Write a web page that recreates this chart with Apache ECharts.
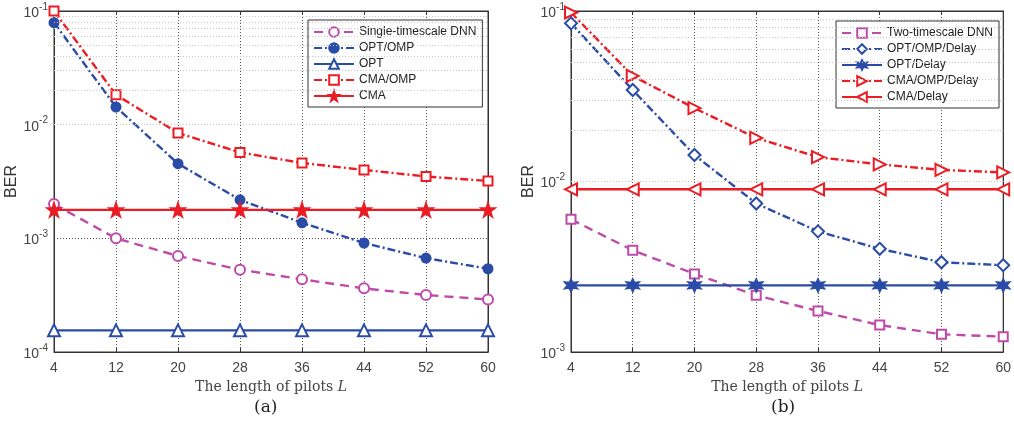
<!DOCTYPE html>
<html>
<head>
<meta charset="utf-8">
<script src="https://cdn.jsdelivr.net/npm/echarts@6/dist/echarts.min.js"></script>
<style>html,body{margin:0;padding:0;background:#fff;}#c{width:1014px;height:436px;}</style>
</head>
<body>
<div id="c"></div>
<script>
var categories = ['4','12','20','28','36','44','52','60'];

var leftDNN    = [0.0020, 0.0010, 0.00070, 0.00053, 0.000436, 0.000363, 0.000317, 0.00029];
var leftOPTOMP = [0.079, 0.0143, 0.00454, 0.00218, 0.00137, 0.00091, 0.00067, 0.00054];
var leftOPT    = [0.000155, 0.000155, 0.000155, 0.000155, 0.000155, 0.000155, 0.000155, 0.000155];
var leftCMAOMP = [0.100, 0.0183, 0.00845, 0.0057, 0.0046, 0.0040, 0.0035, 0.0032];
var leftCMA    = [0.00178, 0.00178, 0.00178, 0.00178, 0.00178, 0.00178, 0.00178, 0.00178];

var rightDNN    = [0.0060, 0.00395, 0.00287, 0.00215, 0.00174, 0.00144, 0.00127, 0.00123];
var rightOPTOMP = [0.0847, 0.0344, 0.0143, 0.00743, 0.0051, 0.00403, 0.00336, 0.00323];
var rightOPT    = [0.00246, 0.00246, 0.00246, 0.00246, 0.00246, 0.00246, 0.00246, 0.00246];
var rightCMAOMP = [0.098, 0.0416, 0.0269, 0.0180, 0.0139, 0.0126, 0.0117, 0.0113];
var rightCMA    = [0.0090, 0.0090, 0.0090, 0.0090, 0.0090, 0.0090, 0.0090, 0.0090];

var leftNames  = ['Single-timescale DNN','OPT/OMP','OPT','CMA/OMP','CMA'];
var rightNames = ['Two-timescale DNN','OPT/OMP/Delay','OPT/Delay','CMA/OMP/Delay','CMA/Delay'];

var MAGENTA = '#BE4BA8', BLUE = '#2A4CA6', RED = '#EC1C24';
var STAR = 'path://M50,0 L61,35 L98,35 L68,57 L79,91 L50,70 L21,91 L32,57 L2,35 L39,35 Z';
var HEXA = 'path://M50,0 L62,29 L93,25 L74,50 L93,75 L62,71 L50,100 L38,71 L7,75 L26,50 L7,25 L38,29 Z';
var DASH = [9,6], DASHDOT = [8,3,2,3];

function minorLines(lo, hi) {
  var out = [];
  for (var e = lo; e < hi; e++) {
    for (var k = 2; k <= 9; k++) out.push({yAxis: k * Math.pow(10, e)});
  }
  return out;
}

function yLabel(v) {
  var e = Math.round(Math.log10(v));
  return '{b|10}{s|' + e + '}';
}
var richY = {
  b: {fontSize: 14, color: '#444', fontFamily: 'Liberation Sans', lineHeight: 18, verticalAlign: 'bottom'},
  s: {fontSize: 10, color: '#444', fontFamily: 'Liberation Sans', lineHeight: 10, verticalAlign: 'top'}
};

function xAxes(g) {
  return [{
    type: 'category', gridIndex: g, data: categories, boundaryGap: false,
    axisLine: {lineStyle: {color: '#333', width: 1}},
    axisTick: {inside: true, length: 4, lineStyle: {color: '#333'}},
    axisLabel: {fontSize: 14, color: '#444', fontFamily: 'Liberation Sans', margin: 9},
    splitLine: {show: true, lineStyle: {color: '#555', type: [1,2], width: 1}},
    name: '{n|The length of pilots }{i|L}', nameLocation: 'middle', nameGap: 28,
    nameTextStyle: {rich: {
      n: {fontSize: 14, fontFamily: 'DejaVu Serif', color: '#444'},
      i: {fontSize: 14, fontFamily: 'DejaVu Serif', fontStyle: 'italic', color: '#444'}
    }}
  }, {
    type: 'category', gridIndex: g, data: categories, boundaryGap: false, position: 'top',
    axisLine: {lineStyle: {color: '#333'}},
    axisTick: {inside: true, length: 4, lineStyle: {color: '#333'}},
    axisLabel: {show: false}, splitLine: {show: false}
  }];
}

function yAxes(g, min) {
  return [{
    type: 'log', logBase: 10, gridIndex: g, min: min, max: 0.1,
    axisLine: {show: true, lineStyle: {color: '#333'}},
    axisTick: {inside: true, length: 4, lineStyle: {color: '#333'}},
    axisLabel: {formatter: yLabel, rich: richY, margin: 6},
    splitLine: {show: true, lineStyle: {color: '#555', type: [1,2], width: 1}},
    name: 'BER', nameLocation: 'middle', nameGap: 34, nameRotate: 90,
    nameTextStyle: {fontSize: 16, color: '#333', fontFamily: 'Liberation Sans'}
  }, {
    type: 'log', logBase: 10, gridIndex: g, min: min, max: 0.1, position: 'right',
    axisLine: {show: true, lineStyle: {color: '#333'}},
    axisTick: {inside: true, length: 4, lineStyle: {color: '#333'}},
    axisLabel: {show: false}, splitLine: {show: false}
  }];
}

function s(name, data, g, color, type, symbol, size, rotate) {
  return {
    name: name, type: 'line', data: data, xAxisIndex: g * 2, yAxisIndex: g * 2,
    lineStyle: {color: color, width: 2.4, type: type},
    itemStyle: {color: color, borderColor: color, borderWidth: 2},
    color: color,
    symbol: symbol, symbolSize: size, symbolRotate: rotate || 0, showAllSymbol: true,
    z: 3, animation: false
  };
}

function gridHelper(g, lo) {
  return {
    type: 'line', data: [], xAxisIndex: g * 2, yAxisIndex: g * 2, silent: true,
    markLine: {
      silent: true, symbol: 'none', label: {show: false}, animation: false,
      lineStyle: {color: '#c8c8c8', type: [1,2], width: 1},
      data: minorLines(lo, -1)
    }
  };
}

var legendText = {fontSize: 12, color: '#222', fontFamily: 'Liberation Sans'};

var chart = echarts.init(document.getElementById('c'), null, {renderer: 'canvas'});
chart.setOption({
  backgroundColor: '#fff',
  animation: false,
  grid: [
    {left: 54, top: 11, width: 434, height: 341, show: true, borderColor: '#333', borderWidth: 1, backgroundColor: 'transparent'},
    {left: 571, top: 11, width: 434, height: 341, show: true, borderColor: '#333', borderWidth: 1, backgroundColor: 'transparent'}
  ],
  xAxis: xAxes(0).concat(xAxes(1)),
  yAxis: yAxes(0, 0.0001).concat(yAxes(1, 0.001)),
  legend: [{
    data: leftNames, orient: 'vertical', left: 308, top: 20,
    itemWidth: 40, itemHeight: 12, itemGap: 4, itemTextGap: 3, padding: [6, 6, 5, 5],
    backgroundColor: '#fff', borderColor: '#333', borderWidth: 1, borderRadius: 0,
    textStyle: legendText
  }, {
    data: rightNames, orient: 'vertical', left: 836, top: 21,
    itemWidth: 40, itemHeight: 12, itemGap: 4, itemTextGap: 3, padding: [6, 6, 5, 5],
    backgroundColor: '#fff', borderColor: '#333', borderWidth: 1, borderRadius: 0,
    textStyle: legendText
  }],
  graphic: [
    {type: 'text', left: 254, top: 399, style: {text: '(a)', font: '17px "DejaVu Serif"', fill: '#222'}},
    {type: 'text', left: 771, top: 399, style: {text: '(b)', font: '17px "DejaVu Serif"', fill: '#222'}}
  ],
  series: [
    gridHelper(0, -4),
    gridHelper(1, -3),
    s(leftNames[0], leftDNN, 0, MAGENTA, DASH, 'emptyCircle', 10),
    s(leftNames[1], leftOPTOMP, 0, BLUE, DASHDOT, 'circle', 9),
    s(leftNames[2], leftOPT, 0, BLUE, 'solid', 'emptyTriangle', 12),
    s(leftNames[3], leftCMAOMP, 0, RED, DASHDOT, 'emptyRect', 9),
    s(leftNames[4], leftCMA, 0, RED, 'solid', STAR, 13),
    s(rightNames[0], rightDNN, 1, MAGENTA, DASH, 'emptyRect', 9),
    s(rightNames[1], rightOPTOMP, 1, BLUE, DASHDOT, 'emptyDiamond', 12),
    s(rightNames[2], rightOPT, 1, BLUE, 'solid', HEXA, 12),
    s(rightNames[3], rightCMAOMP, 1, RED, DASHDOT, 'emptyTriangle', 12, -90),
    s(rightNames[4], rightCMA, 1, RED, 'solid', 'emptyTriangle', 12, 90)
  ]
});
</script>
</body>
</html>
